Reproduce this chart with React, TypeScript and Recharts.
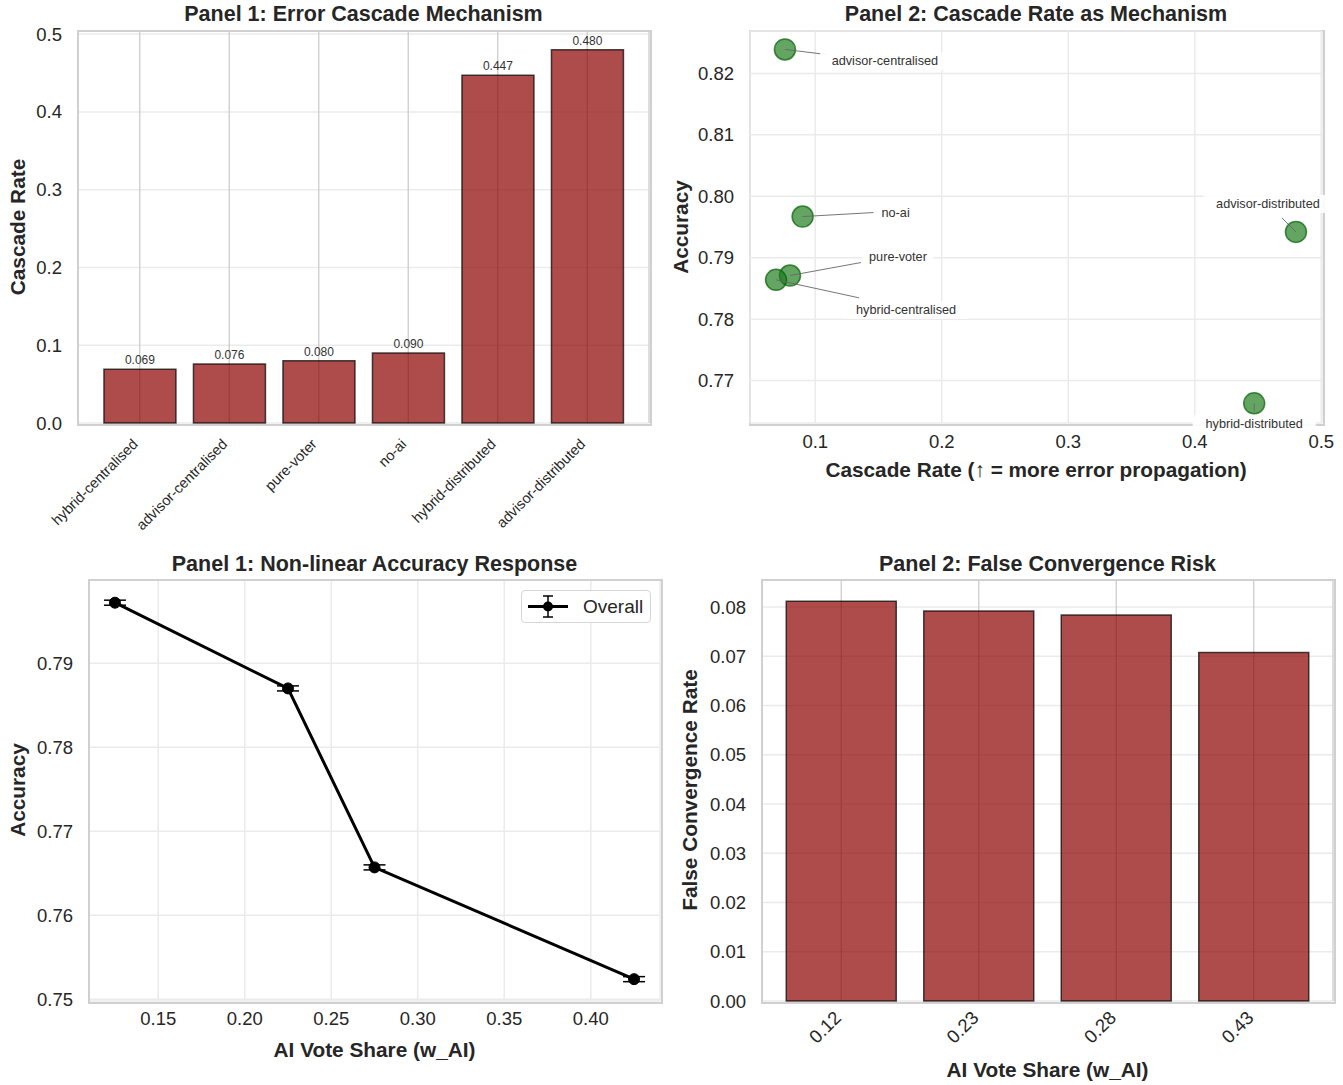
import React from "react";
import {
  BarChart,
  Bar,
  XAxis,
  YAxis,
  CartesianGrid,
  LabelList,
  ScatterChart,
  Scatter,
  LineChart,
  Line,
  ErrorBar,
} from "recharts";

const FONT = '"Liberation Sans", Arial, Helvetica, sans-serif';
const INK = "#262626";

// Panel 1 – cascade rate by mechanism
const mechanisms = [
  "hybrid-centralised",
  "advisor-centralised",
  "pure-voter",
  "no-ai",
  "hybrid-distributed",
  "advisor-distributed",
];
const cascadeRates = [0.069, 0.076, 0.08, 0.09, 0.447, 0.48];
const cascadeTicks = [0, 0.1, 0.2, 0.3, 0.4, 0.5];

// Panel 2 – cascade rate vs accuracy
const scatterNames = [
  "advisor-centralised",
  "no-ai",
  "pure-voter",
  "hybrid-centralised",
  "advisor-distributed",
  "hybrid-distributed",
];
const scatterCascade = [0.076, 0.09, 0.08, 0.069, 0.48, 0.447];
const scatterAccuracy = [0.8239, 0.7967, 0.7871, 0.7864, 0.7942, 0.7663];
const scatterXTicks = [0.1, 0.2, 0.3, 0.4, 0.5];
const scatterYTicks = [0.77, 0.78, 0.79, 0.8, 0.81, 0.82];

// Panel 3 – accuracy vs AI vote share
const voteShare = [0.125, 0.225, 0.275, 0.425];
const overallAccuracy = [0.7972, 0.787, 0.7657, 0.7524];
const accuracyErr = [0.0003, 0.0003, 0.0003, 0.0003];
const shareTicks = [0.15, 0.2, 0.25, 0.3, 0.35, 0.4];
const accTicks = [0.75, 0.76, 0.77, 0.78, 0.79];

// Panel 4 – false convergence
const shareLabels = ["0.12", "0.23", "0.28", "0.43"];
const falseConvergence = [0.0812, 0.0792, 0.0784, 0.0708];
const fcTicks = [0, 0.01, 0.02, 0.03, 0.04, 0.05, 0.06, 0.07, 0.08];

const p1Data = mechanisms.map((name, i) => ({ name, value: cascadeRates[i] }));
const p2Data = scatterNames.map((name, i) => ({ name, x: scatterCascade[i], y: scatterAccuracy[i] }));
const p3Data = voteShare.map((x, i) => ({ x, y: overallAccuracy[i], err: accuracyErr[i] }));
const p4Data = shareLabels.map((name, i) => ({ name, value: falseConvergence[i] }));

// label placement for the scatter annotations (pixel offsets from the point)
const annot: Record<string, { tx: number; ty: number; lx: number; ly: number }> = {
  "advisor-centralised": { tx: 100, ty: 12, lx: 41, ly: 5 },
  "no-ai": { tx: 93, ty: -4, lx: 71, ly: -4 },
  "pure-voter": { tx: 108, ty: -19, lx: 71, ly: -13 },
  "hybrid-centralised": { tx: 130, ty: 30, lx: 83, ly: 18 },
  "advisor-distributed": { tx: -28, ty: -28, lx: -14, ly: -14 },
  "hybrid-distributed": { tx: 0, ty: 21, lx: 0, ly: 8 },
};

const tickStyle = { fontSize: 18.5, fill: INK, fontFamily: FONT };

function Title({ x, y, children }: { x: number; y: number; children: React.ReactNode }) {
  return (
    <div
      style={{
        position: "absolute",
        left: x,
        top: y,
        transform: "translate(-50%, -50%)",
        fontSize: 21.5,
        fontWeight: 700,
        color: INK,
        whiteSpace: "nowrap",
        lineHeight: 1,
      }}
    >
      {children}
    </div>
  );
}

function AxisLabel({ x, y, vertical, children }: { x: number; y: number; vertical?: boolean; children: React.ReactNode }) {
  return (
    <div
      style={{
        position: "absolute",
        left: x,
        top: y,
        transform: vertical ? "translate(-50%, -50%) rotate(-90deg)" : "translate(-50%, -50%)",
        fontSize: 20.8,
        fontWeight: 700,
        color: INK,
        whiteSpace: "nowrap",
        lineHeight: 1,
      }}
    >
      {children}
    </div>
  );
}

function Frame({ l, t, r, b }: { l: number; t: number; r: number; b: number }) {
  return (
    <div
      style={{
        position: "absolute",
        left: l - 1,
        top: t - 1,
        width: r - l,
        height: b - t,
        border: "2px solid #d0d0d0",
        pointerEvents: "none",
      }}
    />
  );
}

function RotTick(props: any) {
  const { x, y, payload, size, dx, dy } = props;
  return (
    <g transform={`translate(${x + dx},${y + dy})`}>
      <text transform="rotate(-45)" textAnchor="end" fontSize={size} fill={INK} fontFamily={FONT}>
        {payload.value}
      </text>
    </g>
  );
}

function Bubble(props: any) {
  const { cx, cy, payload } = props;
  const a = annot[payload.name];
  const w = payload.name.length * 6.5 + 6;
  return (
    <g>
      <circle cx={cx} cy={cy} r={10.5} fill="#1a7a1a" fillOpacity={0.68} stroke="#0b650b" strokeOpacity={0.75} strokeWidth={1.5} />
      <line x1={cx} y1={cy} x2={cx + a.lx} y2={cy + a.ly} stroke="#666" strokeWidth={0.9} />
      <rect x={cx + a.tx - w / 2} y={cy + a.ty - 9} width={w} height={18} fill="#ffffff" fillOpacity={0.9} />
      <text
        x={cx + a.tx}
        y={cy + a.ty}
        textAnchor="middle"
        dominantBaseline="central"
        fontSize={12.7}
        fill="#333"
        fontFamily={FONT}
      >
        {payload.name}
      </text>
    </g>
  );
}

export default function App() {
  return (
    <div
      style={{
        position: "absolute",
        left: 0,
        top: 0,
        width: 1343,
        height: 1085,
        background: "#fff",
        fontFamily: FONT,
        overflow: "hidden",
      }}
    >
      {/* Panel 1 */}
      <div style={{ position: "absolute", left: 0, top: 0 }}>
        <BarChart width={660} height={540} data={p1Data} margin={{ top: 31, right: 11, left: 0, bottom: 0 }} barCategoryGap="10%">
          <CartesianGrid vertical={false} stroke="#ebebeb" strokeWidth={1.5} />
          <CartesianGrid horizontal={false} stroke="#cccccc" strokeWidth={1.3} />
          <XAxis
            dataKey="name"
            interval={0}
            padding={{ left: 17, right: 17 }}
            height={117}
            tickLine={false}
            axisLine={false}
            tick={(p: any) => <RotTick {...p} size={14.5} dx={-1} dy={14} />}
          />
          <YAxis
            type="number"
            domain={[0, 0.504]}
            ticks={cascadeTicks}
            tickFormatter={(v: number) => v.toFixed(1)}
            width={78}
            tickLine={false}
            axisLine={false}
            tickMargin={10}
            tick={tickStyle}
          />
          <Bar dataKey="value" fill="#8b0000" fillOpacity={0.7} stroke="#000" strokeOpacity={0.7} strokeWidth={1.5} isAnimationActive={false}>
            <LabelList
              dataKey="value"
              position="top"
              offset={5}
              formatter={(v: any) => Number(v).toFixed(3)}
              style={{ fontSize: 12, fill: "#333", fontFamily: FONT }}
            />
          </Bar>
        </BarChart>
      </div>
      <Frame l={78} t={31} r={649} b={423} />
      <Title x={363.5} y={15}>Panel 1: Error Cascade Mechanism</Title>
      <AxisLabel x={18} y={227} vertical>
        Cascade Rate
      </AxisLabel>

      {/* Panel 2 */}
      <Frame l={750} t={31} r={1322} b={423} />
      <div style={{ position: "absolute", left: 660, top: 0 }}>
        <ScatterChart width={683} height={540} margin={{ top: 31, right: 21, left: 0, bottom: 0 }}>
          <CartesianGrid stroke="#ebebeb" strokeWidth={1.5} />
          <XAxis
            type="number"
            dataKey="x"
            domain={[0.0484, 0.5006]}
            ticks={scatterXTicks}
            tickFormatter={(v: number) => v.toFixed(1)}
            height={117}
            tickLine={false}
            axisLine={false}
            tickMargin={6}
            tick={tickStyle}
          />
          <YAxis
            type="number"
            dataKey="y"
            domain={[0.7631, 0.8269]}
            ticks={scatterYTicks}
            tickFormatter={(v: number) => v.toFixed(2)}
            width={90}
            tickLine={false}
            axisLine={false}
            tickMargin={10}
            tick={tickStyle}
          />
          <Scatter data={p2Data} shape={(p: any) => <Bubble {...p} />} isAnimationActive={false} />
        </ScatterChart>
      </div>
      <Title x={1036} y={15}>Panel 2: Cascade Rate as Mechanism</Title>
      <AxisLabel x={681} y={227} vertical>
        Accuracy
      </AxisLabel>
      <AxisLabel x={1036} y={470}>Cascade Rate (↑ = more error propagation)</AxisLabel>

      {/* Panel 3 */}
      <div style={{ position: "absolute", left: 0, top: 540 }}>
        <LineChart width={670} height={545} data={p3Data} margin={{ top: 40, right: 10, left: 0, bottom: 0 }}>
          <CartesianGrid stroke="#ebebeb" strokeWidth={1.5} />
          <XAxis
            type="number"
            dataKey="x"
            domain={[0.11, 0.44]}
            ticks={shareTicks}
            tickFormatter={(v: number) => v.toFixed(2)}
            height={84}
            tickLine={false}
            axisLine={false}
            tickMargin={5}
            tick={tickStyle}
          />
          <YAxis
            type="number"
            domain={[0.7498, 0.7999]}
            ticks={accTicks}
            tickFormatter={(v: number) => v.toFixed(2)}
            width={89}
            tickLine={false}
            axisLine={false}
            tickMargin={10}
            tick={tickStyle}
          />
          <Line
            dataKey="y"
            stroke="#000"
            strokeWidth={3}
            dot={{ r: 5.5, fill: "#000", stroke: "#000", strokeWidth: 1 }}
            isAnimationActive={false}
          >
            <ErrorBar dataKey="err" direction="y" width={11} stroke="#000" strokeWidth={1.5} />
          </Line>
        </LineChart>
      </div>
      <Frame l={89} t={580} r={660} b={1001} />
      <div
        style={{
          position: "absolute",
          left: 521,
          top: 590,
          width: 130,
          height: 33,
          border: "1px solid #d6d6d6",
          borderRadius: 4,
          background: "#fff",
          boxSizing: "border-box",
        }}
      >
        <svg width={50} height={31} style={{ position: "absolute", left: 4, top: 0 }}>
          <line x1={2} y1={15.5} x2={42} y2={15.5} stroke="#000" strokeWidth={3} />
          <line x1={22} y1={5} x2={22} y2={26} stroke="#000" strokeWidth={1.5} />
          <line x1={17} y1={5} x2={27} y2={5} stroke="#000" strokeWidth={1.5} />
          <line x1={17} y1={26} x2={27} y2={26} stroke="#000" strokeWidth={1.5} />
          <circle cx={22} cy={15.5} r={5} fill="#000" />
        </svg>
        <span style={{ position: "absolute", left: 61, top: 6, fontSize: 19, color: INK, lineHeight: 1 }}>Overall</span>
      </div>
      <Title x={374.5} y={565}>Panel 1: Non-linear Accuracy Response</Title>
      <AxisLabel x={18} y={790} vertical>
        Accuracy
      </AxisLabel>
      <AxisLabel x={374.5} y={1050}>AI Vote Share (w_AI)</AxisLabel>

      {/* Panel 4 */}
      <div style={{ position: "absolute", left: 670, top: 540 }}>
        <BarChart width={673} height={545} data={p4Data} margin={{ top: 40, right: 10, left: 0, bottom: 0 }} barCategoryGap="10%">
          <CartesianGrid vertical={false} stroke="#ebebeb" strokeWidth={1.5} />
          <CartesianGrid horizontal={false} stroke="#cccccc" strokeWidth={1.3} />
          <XAxis
            dataKey="name"
            interval={0}
            padding={{ left: 10.5, right: 10.5 }}
            height={84}
            tickLine={false}
            axisLine={false}
            tick={(p: any) => <RotTick {...p} size={18.5} dx={1} dy={10} />}
          />
          <YAxis
            type="number"
            domain={[0, 0.0855]}
            ticks={fcTicks}
            tickFormatter={(v: number) => v.toFixed(2)}
            width={92}
            tickLine={false}
            axisLine={false}
            tickMargin={10}
            tick={tickStyle}
          />
          <Bar dataKey="value" fill="#8b0000" fillOpacity={0.7} stroke="#000" strokeOpacity={0.7} strokeWidth={1.5} isAnimationActive={false} />
        </BarChart>
      </div>
      <Frame l={762} t={580} r={1333} b={1001} />
      <Title x={1047.5} y={565}>Panel 2: False Convergence Risk</Title>
      <AxisLabel x={690} y={790} vertical>
        False Convergence Rate
      </AxisLabel>
      <AxisLabel x={1047.5} y={1070}>AI Vote Share (w_AI)</AxisLabel>
    </div>
  );
}
